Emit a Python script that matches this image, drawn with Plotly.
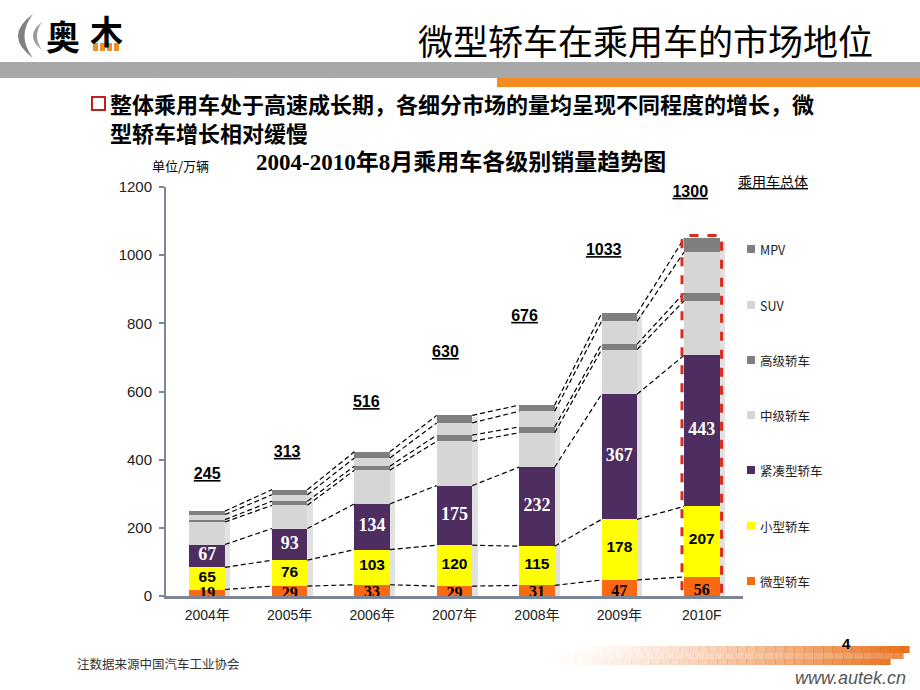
import plotly.graph_objects as go

# ---------------- data ----------------
categories = ['2004年', '2005年', '2006年', '2007年', '2008年', '2009年', '2010F']
micro   = [19, 29, 33, 29, 31, 47, 56]        # 微型轿车
small   = [65, 76, 103, 120, 115, 178, 207]   # 小型轿车
compact = [67, 93, 134, 175, 232, 367, 443]   # 紧凑型轿车
mid     = [66, 68, 99, 130, 101, 131, 160]    # 中级轿车
high    = [7, 12, 12, 18, 17, 16, 23]         # 高级轿车
suv     = [15, 19, 24, 36, 46, 67, 120]       # SUV
mpv     = [10, 15, 18, 22, 18, 23, 40]        # MPV
totals  = [245, 313, 516, 630, 676, 1033, 1300]  # 乘用车总体
y_ticks = [0, 200, 400, 600, 800, 1000, 1200]

# label placement (style, not data)
total_label_x = [0.0, 0.97, 1.93, 2.89, 3.85, 4.81, 5.86]
total_label_y = [355, 420, 566, 713, 819, 1012, 1183]

series = [
    ('微型轿车', micro, '#FA6A12'),
    ('小型轿车', small, '#FFFF00'),
    ('紧凑型轿车', compact, '#4E2D60'),
    ('中级轿车', mid, '#D6D6D6'),
    ('高级轿车', high, '#7F7F7F'),
    ('SUV', suv, '#D6D6D6'),
    ('MPV', mpv, '#7F7F7F'),
]

W, H = 920, 690
L, R, T, B = 166, 177, 187, 94
PW, PH = W - L - R, H - T - B


def px(x):
    return (x - L) / PW


def py(y):
    return (H - B - y) / PH


xs = list(range(len(categories)))
BW = 0.43
HW = BW / 2

fig = go.Figure()

# cumulative bases
bases = []
tops = []
cum = [0] * len(categories)
for name, vals, col in series:
    bases.append(list(cum))
    cum = [c + v for c, v in zip(cum, vals)]
    tops.append(list(cum))
bar_tops = cum

# shadow strip at right of bars
fig.add_trace(go.Bar(x=xs, y=[t - 4 for t in bar_tops], base=[-2] * len(xs),
                     width=0.07, offset=HW - 0.005,
                     marker=dict(color='rgba(120,120,120,0.22)', line=dict(width=0)),
                     showlegend=False, hoverinfo='skip'))

for (name, vals, col), base in zip(series, bases):
    fig.add_trace(go.Bar(x=xs, y=vals, base=base, width=BW, name=name,
                         marker=dict(color=col, line=dict(width=0)),
                         showlegend=False))

# dashed connectors between segment tops
for lvl in tops:
    lx, ly = [], []
    for i in range(len(xs) - 1):
        lx += [xs[i] + HW, xs[i + 1] - HW, None]
        ly += [lvl[i], lvl[i + 1], None]
    fig.add_trace(go.Scatter(x=lx, y=ly, mode='lines',
                             line=dict(color='black', width=1.2, dash='5px,3px'),
                             showlegend=False, hoverinfo='skip'))

# value labels
label_styles = [
    (0, dict(family='Liberation Serif', size=16, color='black'), 0.25),
    (1, dict(family='Liberation Sans', size=15.5, color='black'), 0.52),
    (2, dict(family='Liberation Serif', size=18, color='white'), 0.5),
]
for idx, font, frac in label_styles:
    name, vals, col = series[idx]
    fig.add_trace(go.Scatter(
        x=xs, y=[b + v * frac for b, v in zip(bases[idx], vals)],
        text=['<b>%d</b>' % v for v in vals], mode='text',
        textposition='middle center', textfont=font,
        cliponaxis=False, showlegend=False, hoverinfo='skip'))

# totals
fig.add_trace(go.Scatter(
    x=total_label_x, y=total_label_y,
    text=['<b><u>%d</u></b>' % t for t in totals], mode='text',
    textposition='middle center',
    textfont=dict(family='Liberation Sans', size=16, color='black'),
    cliponaxis=False, showlegend=False, hoverinfo='skip'))

# red dashed rounded box around 2010F
x0, x1 = xs[-1] - HW - 0.025, xs[-1] + HW + 0.025
y0, y1 = -4, bar_tops[-1] + 9
rx, ry = 0.07, 17
path = (f'M{x0 + rx},{y0} L{x1 - rx},{y0} Q{x1},{y0} {x1},{y0 + ry} '
        f'L{x1},{y1 - ry} Q{x1},{y1} {x1 - rx},{y1} L{x0 + rx},{y1} '
        f'Q{x0},{y1} {x0},{y1 - ry} L{x0},{y0 + ry} Q{x0},{y0} {x0 + rx},{y0} Z')
fig.add_shape(type='path', path=path, xref='x', yref='y',
              line=dict(color='#D92B1F', width=3, dash='dash'), layer='above')

shapes = []
annotations = []


def rect(xa, ya, xb, yb, color, line=None):
    d = dict(type='rect', xref='paper', yref='paper',
             x0=px(xa), x1=px(xb), y0=py(yb), y1=py(ya),
             fillcolor=color, layer='above')
    d['line'] = line if line else dict(width=0)
    shapes.append(d)


def txt(s, x, y, size, color='black', family='Noto Sans CJK SC', xanchor='center',
        yanchor='middle', align='center'):
    annotations.append(dict(text=s, x=px(x), y=py(y), xref='paper', yref='paper',
                            showarrow=False, xanchor=xanchor, yanchor=yanchor, align=align,
                            font=dict(size=size, color=color, family=family)))


# header
rect(0, 62, 920, 78, '#A8A8A8')
rect(497, 78, 920, 87, '#F68B1F')
txt('微型轿车在乘用车的市场地位', 645, 40, 35, family='Noto Sans CJK SC')

# logo crescents
def crescent(xt, yt, yb, xo, xi, color):
    pts = lambda x, y: f'{px(x)},{py(y)}'
    ym = (yt + yb) / 2
    p = f'M{pts(xt, yt)} Q{pts(xo, ym)} {pts(xt, yb)} Q{pts(xi, ym)} {pts(xt, yt)} Z'
    shapes.append(dict(type='path', path=p, xref='paper', yref='paper',
                       fillcolor=color, line=dict(width=0), layer='above'))


crescent(33, 14, 58, 3, 16, '#808080')
crescent(42, 22, 50, 24, 32, '#9A9A9A')
txt('<b>奥</b>', 63, 36, 34)
txt('<b>木</b>', 106, 30, 33)
for i in range(4):
    rect(93 + i * 7, 43, 98 + i * 7, 51, '#E8912E')

# bullet text
rect(92, 97, 105, 110, 'rgba(0,0,0,0)', line=dict(color='#C0211A', width=2))
txt('<b>整体乘用车处于高速成长期，各细分市场的量均呈现不同程度的增长，微</b><br>'
    '<b>型轿车增长相对缓慢</b>', 108, 117, 22, xanchor='left', align='left')

# chart texts
txt('单位/万辆', 180, 165, 13)
txt('<b>2004-2010年8月乘用车各级别销量趋势图</b>', 461, 163, 23,
    family='Liberation Serif, Noto Sans CJK SC')
txt('<u>乘用车总体</u>', 773, 181, 14)

# custom legend
leg_y = [581, 526, 470, 415, 360, 305, 249]
for (name, vals, col), ly in zip(series, leg_y):
    rect(747, ly - 4, 755, ly + 4, col)
    txt(name, 758, ly, 12.5, color='#222', xanchor='left')

# footer
txt('注数据来源中国汽车工业协会', 75, 663, 12.5, color='#333', xanchor='left')
txt('<b>4</b>', 846, 643, 15, family='Liberation Sans')
txt('<i>www.autek.cn</i>', 908, 678, 18, color='#555',
    family='Liberation Sans Narrow, Liberation Sans', xanchor='right')

streaks = [(646, 653, 565, 909, 1.0), (653, 659, 545, 903, 0.8), (659, 665, 545, 890, 0.95)]
N = 36
for ya, yb, xa, xb, amax in streaks:
    step = (xb - xa) / N
    for k in range(N):
        t = (k + 0.5) / N
        a = amax * (t ** 1.4)
        rect(xa + k * step, ya, xa + (k + 1) * step + 0.6, yb, f'rgba(232,110,25,{a:.3f})')

fig.update_layout(
    width=W, height=H,
    margin=dict(l=L, r=R, t=T, b=B, pad=0),
    paper_bgcolor='white', plot_bgcolor='white',
    barmode='overlay', bargap=0,
    showlegend=False,
    shapes=list(fig.layout.shapes) + shapes,
    annotations=annotations,
    xaxis=dict(range=[-0.5, 6.5], tickvals=xs, ticktext=categories,
               showline=True, linecolor='#7D8697', linewidth=3,
               showgrid=False, zeroline=False, ticks='', fixedrange=True,
               ticklabelstandoff=4,
               tickfont=dict(family='Liberation Sans, Noto Sans CJK SC', size=14, color='#222')),
    yaxis=dict(range=[0, 1200], tickvals=y_ticks,
               showline=True, linecolor='#7D8697', linewidth=2,
               ticks='outside', ticklen=5, tickcolor='#7D8697', tickwidth=2,
               showgrid=False, zeroline=False, fixedrange=True,
               ticklabelstandoff=4,
               tickfont=dict(family='Liberation Sans', size=15, color='#222')),
    font=dict(family='Noto Sans CJK SC'),
)

fig.write_html('out.html', config={'displayModeBar': False},
               post_script="document.body.style.margin='0';")
